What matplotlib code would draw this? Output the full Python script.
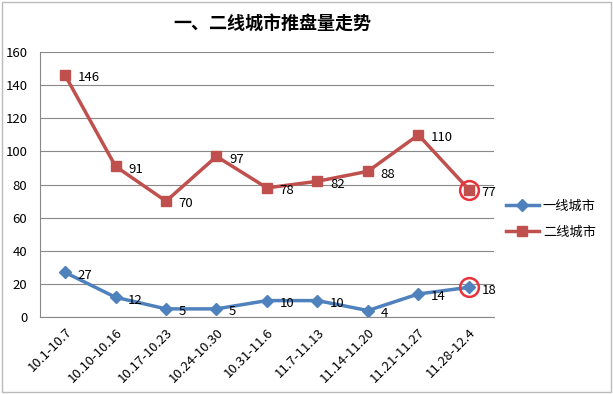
import matplotlib.pyplot as plt
from matplotlib.patches import Rectangle

plt.rcParams['font.family'] = ['Noto Sans CJK SC', 'DejaVu Sans']

categories = ["10.1-10.7", "10.10-10.16", "10.17-10.23", "10.24-10.30", "10.31-11.6",
              "11.7-11.13", "11.14-11.20", "11.21-11.27", "11.28-12.4"]
tier1 = [27, 12, 5, 5, 10, 10, 4, 14, 18]
tier2 = [146, 91, 70, 97, 78, 82, 88, 110, 77]
series_names = ["一线城市", "二线城市"]
title = "一、二线城市推盘量走势"

blue = "#4F81BD"
red = "#C0504D"

fig = plt.figure(figsize=(6.13, 3.94), dpi=100)
ax = fig.add_axes([0.065, 0.195, 0.741, 0.673])

x = list(range(len(categories)))
ax.plot(x, tier1, color=blue, lw=2.5, marker='D', ms=6, label=series_names[0])
ax.plot(x, tier2, color=red, lw=2.5, marker='s', ms=6.5, label=series_names[1])

for xi, v in zip(x, tier1):
    ax.annotate(str(v), (xi, v), xytext=(9, -2), textcoords='offset points',
                ha='left', va='center', fontsize=9.5, color='black')
for xi, v in zip(x, tier2):
    ax.annotate(str(v), (xi, v), xytext=(9, -2), textcoords='offset points',
                ha='left', va='center', fontsize=9.5, color='black')

# highlight circles on last points
for v in (tier1[-1], tier2[-1]):
    ax.plot([x[-1]], [v], marker='o', ms=13.5, mfc='none', mec='#E8323C', mew=1.8, zorder=5)

ax.set_xlim(-0.5, len(categories) - 0.5)
ax.set_ylim(0, 160)
ax.set_yticks(range(0, 161, 20))
ax.yaxis.grid(True, color='#888888', lw=0.8)
ax.set_axisbelow(True)
ax.set_xticks(x)
ax.set_xticklabels(categories, rotation=45, ha='right', rotation_mode='anchor', fontsize=9.5)
ax.tick_params(axis='y', labelsize=9.5, length=0, pad=9)
ax.tick_params(axis='x', length=0, pad=6)
for s in ['top', 'right']:
    ax.spines[s].set_visible(False)
ax.spines['left'].set_color('#888888')
ax.spines['bottom'].set_color('#888888')

fig.text(0.445, 0.94, title, ha='center', va='center', fontsize=13, fontweight='bold')

leg = ax.legend(loc='center left', bbox_to_anchor=(1.0, 0.37), frameon=False,
                fontsize=9.5, handlelength=2.5, labelspacing=1.0, handletextpad=0.3)

fig.patches.append(Rectangle((0.003, 0.005), 0.994, 0.99, transform=fig.transFigure,
                             fill=False, edgecolor='#BBBBBB', lw=1))

fig.savefig('out.png', dpi=100)
